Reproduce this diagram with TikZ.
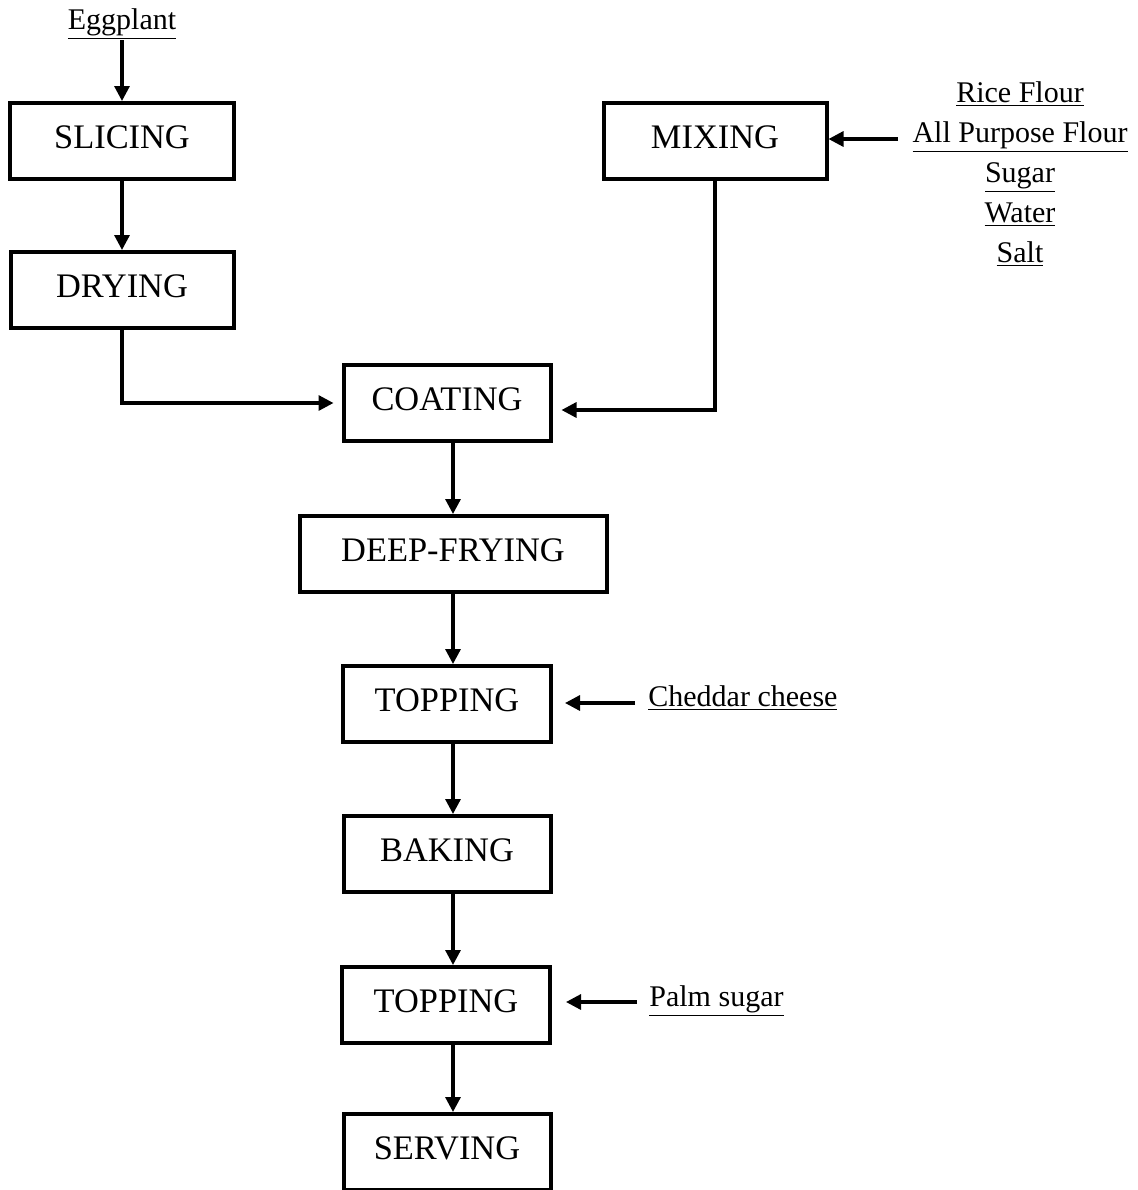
\documentclass[tikz,border=0pt]{standalone}
\usepackage{fontspec}
\setmainfont{Liberation Serif}
\usetikzlibrary{arrows.meta}
\begin{document}
\begin{tikzpicture}[x = 0.5pt,
                    y = -0.5pt,
                    color = {black}]
% styles
\tikzset{stepbox/.style={draw=black,line width=2pt,fill=white,minimum height=38pt,
                         inner sep=0pt,text depth=4pt,font=\fontsize{17.2}{20}\selectfont}}
\tikzset{flowline/.style={line width=1.6pt,-{Triangle[length=7.5pt,width=7.5pt]}}}
\tikzset{ingr/.style={inner sep=0pt,align=center,font=\fontsize{15}{20}\selectfont}}
\useasboundingbox (0,0) rectangle (1138,1190);
% boxes
\node[stepbox,minimum width=112pt] (slicing) at (122,141) {SLICING};
\node[stepbox,minimum width=111.5pt] (drying) at (122,290) {DRYING};
\node[stepbox,minimum width=111.5pt] (mixing) at (715,141) {MIXING};
\node[stepbox,minimum width=103.5pt] (coating) at (447,403) {COATING};
\node[stepbox,minimum width=153.5pt] (frying) at (453,554) {DEEP-FRYING};
\node[stepbox,minimum width=104pt] (topping1) at (447,704) {TOPPING};
\node[stepbox,minimum width=103.5pt] (baking) at (447,854) {BAKING};
\node[stepbox,minimum width=104pt] (topping2) at (446,1005) {TOPPING};
\node[stepbox,minimum width=103.5pt] (serving) at (447,1152) {SERVING};
% ingredients
\node[ingr] (eggplant) at (122,24) {\underline{Eggplant}};
\node[ingr] (batter) at (1020,174) {\underline{Rice Flour}\\\underline{All Purpose Flour}\\
  \underline{Sugar}\\\underline{Water}\\\underline{Salt}};
\node[ingr,anchor=west] (cheese) at (648,698) {\underline{Cheddar cheese}};
\node[ingr,anchor=west] (palm) at (649,1001) {\underline{Palm sugar}};
% free ends
\coordinate (B1) at (898,139);
\coordinate (T1) at (635,703);
\coordinate (T2) at (637,1002);
% connectors
\draw[flowline] (122,40) -- (slicing);
\draw[flowline] (slicing) -- (drying);
\draw[flowline] (drying.south) |- ([xshift=-4pt]coating.west);
\draw[flowline] (mixing.south) |- ([xshift=4.5pt,yshift=-3.5pt]coating.east);
\draw[flowline] (B1) -- (mixing.east |- B1);
\draw[flowline] ([xshift=3pt]coating.south) -- (frying);
\draw[flowline] (frying) -- ([xshift=3pt]topping1.north);
\draw[flowline] (T1) -- ([xshift=6pt]topping1.east |- T1);
\draw[flowline] ([xshift=3pt]topping1.south) -- ([xshift=3pt]baking.north);
\draw[flowline] ([xshift=3pt]baking.south) -- ([xshift=3.5pt]topping2.north);
\draw[flowline] (T2) -- ([xshift=7pt]topping2.east |- T2);
\draw[flowline] ([xshift=3.5pt]topping2.south) -- ([xshift=3pt]serving.north);
\end{tikzpicture}
\end{document}
